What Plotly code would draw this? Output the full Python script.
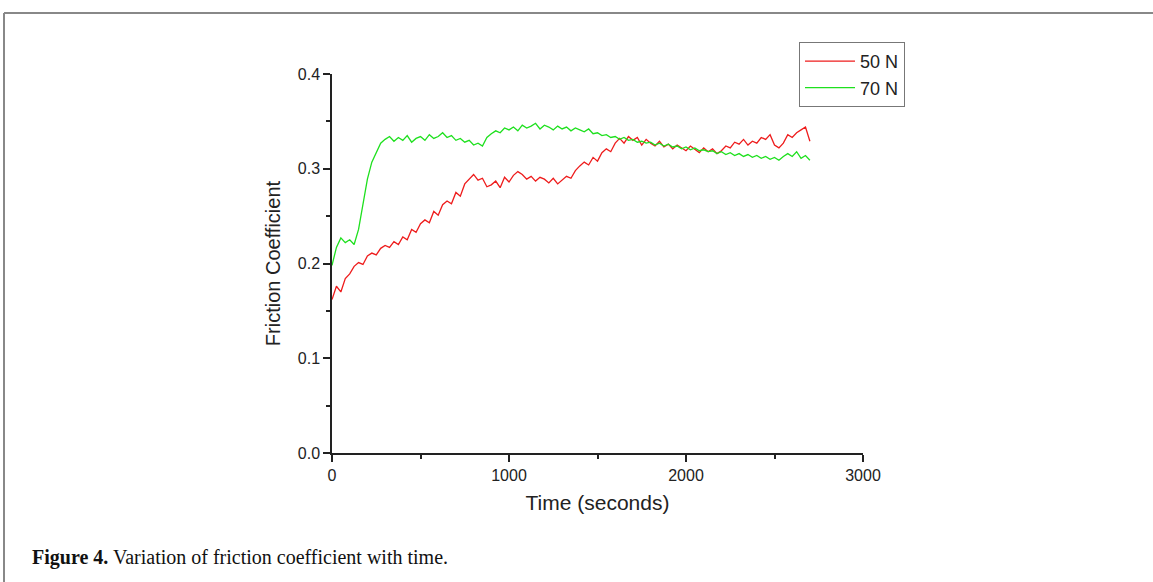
import plotly.graph_objects as go

# Time axis (seconds), sampled every 25 s
time_s = list(range(0, 2701, 25))

# 50 N friction coefficient
mu_50N = [
    0.162, 0.176, 0.170, 0.184, 0.189, 0.197, 0.201, 0.199, 0.208, 0.211,
    0.209, 0.216, 0.219, 0.217, 0.223, 0.220, 0.228, 0.225, 0.236, 0.233,
    0.242, 0.246, 0.243, 0.255, 0.251, 0.262, 0.266, 0.263, 0.275, 0.271,
    0.284, 0.289, 0.294, 0.288, 0.290, 0.281, 0.283, 0.287, 0.280, 0.291,
    0.286, 0.293, 0.297, 0.294, 0.289, 0.292, 0.287, 0.291, 0.289, 0.285,
    0.290, 0.284, 0.288, 0.292, 0.290, 0.298, 0.303, 0.307, 0.304, 0.312,
    0.308, 0.317, 0.321, 0.318, 0.327, 0.332, 0.327, 0.334, 0.330, 0.333,
    0.325, 0.331, 0.327, 0.324, 0.329, 0.323, 0.326, 0.321, 0.325, 0.322,
    0.319, 0.324, 0.320, 0.317, 0.322, 0.318, 0.321, 0.316, 0.319, 0.324,
    0.322, 0.328, 0.326, 0.331, 0.325, 0.329, 0.327, 0.333, 0.331, 0.336,
    0.325, 0.322, 0.327, 0.336, 0.333, 0.338, 0.341, 0.344, 0.329,
]

# 70 N friction coefficient
mu_70N = [
    0.198, 0.217, 0.227, 0.222, 0.225, 0.220, 0.236, 0.263, 0.289, 0.307,
    0.318, 0.327, 0.331, 0.334, 0.329, 0.333, 0.330, 0.335, 0.328, 0.332,
    0.334, 0.330, 0.336, 0.332, 0.334, 0.338, 0.333, 0.335, 0.330, 0.332,
    0.328, 0.330, 0.325, 0.327, 0.324, 0.333, 0.337, 0.340, 0.338, 0.343,
    0.341, 0.344, 0.340, 0.346, 0.343, 0.345, 0.348, 0.342, 0.346, 0.344,
    0.341, 0.345, 0.342, 0.344, 0.340, 0.343, 0.341, 0.339, 0.342, 0.337,
    0.338, 0.335, 0.336, 0.333, 0.334, 0.331, 0.333, 0.330, 0.331, 0.328,
    0.329, 0.327, 0.328, 0.325, 0.327, 0.324, 0.326, 0.323, 0.324, 0.321,
    0.323, 0.320, 0.322, 0.319, 0.320, 0.318, 0.319, 0.316, 0.318, 0.315,
    0.317, 0.314, 0.316, 0.313, 0.315, 0.312, 0.314, 0.311, 0.313, 0.310,
    0.312, 0.309, 0.313, 0.316, 0.313, 0.318, 0.311, 0.314, 0.309,
]

x_tick_vals = [0, 1000, 2000, 3000]
y_tick_vals = [0.0, 0.1, 0.2, 0.3, 0.4]

W, H = 1153, 582
L, R, T, B = 332, 863, 74, 453

def px(x):
    return (x - L) / (R - L)

def py(y):
    return (B - y) / (B - T)

fig = go.Figure()
fig.add_trace(go.Scatter(x=time_s, y=mu_50N, mode="lines", name="50 N",
                         line=dict(color="#ee1c1c", width=1.3)))
fig.add_trace(go.Scatter(x=time_s, y=mu_70N, mode="lines", name="70 N",
                         line=dict(color="#1ee01e", width=1.3)))

axis_font = dict(family="Liberation Sans, Arial, sans-serif", size=16, color="#222")
fig.update_layout(
    width=W, height=H,
    margin=dict(l=L, r=W - R, t=T, b=H - B),
    paper_bgcolor="white", plot_bgcolor="white",
    font=axis_font,
    legend=dict(x=px(799), y=py(42), xanchor="left", yanchor="top",
                bordercolor="#777", borderwidth=1, bgcolor="white",
                font=dict(family="Liberation Sans, Arial, sans-serif", size=18, color="#222"),
                tracegroupgap=0, itemwidth=50),
    showlegend=True,
)
fig.update_xaxes(range=[0, 3000], tickvals=x_tick_vals, ticktext=[str(v) for v in x_tick_vals],
                 showgrid=False, zeroline=False, showline=True, linecolor="#222", linewidth=1.5,
                 ticks="outside", ticklen=7, tickwidth=1.5, tickcolor="#222",
                 minor=dict(ticks="outside", tickvals=[500, 1500, 2500], ticklen=4, tickcolor="#222", tickwidth=1.5),
                 title=dict(text="Time (seconds)", font=dict(size=21, color="#222"), standoff=12))
fig.update_yaxes(range=[0, 0.4], tickvals=y_tick_vals, ticktext=[f"{v:.1f}" for v in y_tick_vals],
                 showgrid=False, zeroline=False, showline=True, linecolor="#222", linewidth=1.5,
                 ticks="outside", ticklen=7, tickwidth=1.5, tickcolor="#222",
                 minor=dict(ticks="outside", tickvals=[0.05, 0.15, 0.25, 0.35], ticklen=4, tickcolor="#222", tickwidth=1.5),
                 title=dict(text="Friction Coefficient", font=dict(size=20, color="#222"), standoff=12))

# page frame
fig.add_shape(type="line", xref="paper", yref="paper",
              x0=px(4), y0=py(600), x1=px(4), y1=py(13), line=dict(color="#888", width=2))
fig.add_shape(type="line", xref="paper", yref="paper",
              x0=px(4), y0=py(13), x1=px(1170), y1=py(13), line=dict(color="#888", width=2))

fig.add_annotation(xref="paper", yref="paper", x=px(30), y=py(557), xanchor="left", yanchor="middle",
                   text="<b>Figure 4.</b> Variation of friction coefficient with time.",
                   showarrow=False,
                   font=dict(family="Liberation Serif, Times New Roman, serif", size=20, color="#111"))

fig.write_html("out.html", config={"displayModeBar": False},
               post_script="document.body.style.margin='0';document.body.style.overflow='hidden';")
